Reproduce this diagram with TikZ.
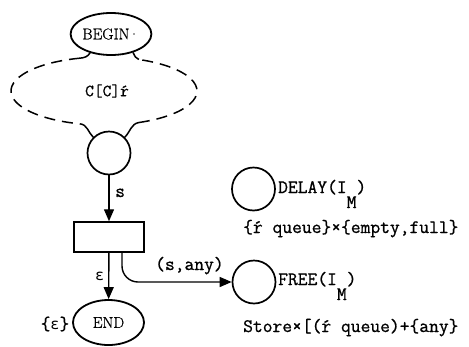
\documentclass[tikz,border=0pt]{standalone}
\usepackage{fontspec}
\newfontfamily\netmono{Latin Modern Mono}[FakeBold=0.9]
\newfontfamily\netroman{Latin Modern Roman}[FakeBold=0.7]
\newfontfamily\netgreek{DejaVu Sans Mono}
\usetikzlibrary{shapes.geometric,arrows.meta,calc}
\begin{document}
\begin{tikzpicture}[x=1pt,y=-1pt,
  place/.style={circle,draw,line width=1.7pt,minimum size=43pt,inner sep=0pt},
  oval/.style={ellipse,draw,line width=1.8pt,inner sep=0pt,
    font=\netroman\fontsize{15.5}{15.5}\selectfont},
  trans/.style={rectangle,draw,line width=1.5pt,minimum width=70pt,
    minimum height=30pt,inner sep=0pt},
  flow/.style={line width=1.4pt,-{Triangle[length=12pt,width=10pt]}},
  ring/.style={line width=1.5pt,dash pattern=on 11pt off 7pt},
  stub/.style={line width=1.5pt},
  tt/.style={font=\netmono\fontsize{19}{19}\selectfont,inner sep=0pt},
  ttsmall/.style={font=\netmono\fontsize{17}{17}\selectfont,inner sep=0pt}
]
\useasboundingbox (0,0) rectangle (469,346);

% places, transition and the two terminal ovals
\node[oval,minimum width=72pt,minimum height=42pt] (begin) at (111,34) {BEGIN\kern-1pt·};
\node[place] (pin) at (109,153) {};
\node[trans] (t) at (109,237) {};
\node[oval,minimum width=71pt,minimum height=45pt] (end) at (108.5,322.5) {END};
\node[place] (delay) at (253.5,189) {};
\node[place] (free) at (254,282) {};

% dashed ring between BEGIN and the input place
\coordinate (dc) at (104,91);
\path (dc) ++(105:93pt and 34pt) coordinate (tl);
\path (dc) ++(255:93pt and 34pt) coordinate (bl);
\path (dc) ++(-68:93pt and 34pt) coordinate (br);
\path (dc) ++(68:93pt and 34pt) coordinate (tr);
\draw[ring] (tl) arc[start angle=105,end angle=255,x radius=93pt,y radius=34pt];
\draw[ring] (br) arc[start angle=-68,end angle=68,x radius=93pt,y radius=34pt];
\draw[stub] (tl) to[out=5,in=-120] (begin.222);
\draw[stub] (begin.-40) to[out=-60,in=170] (tr);
\draw[stub] (bl) to[out=-5,in=135] (pin.135);
\draw[stub] (pin.45) to[out=45,in=190] (br);
\node[ttsmall] (ring) at (107,91) {C[C]ŕ};

% arcs of the net
\draw[flow] (pin) -- (t);
\draw[flow] (t) -- (end);
\draw[flow,rounded corners=16pt] ([xshift=13pt]t.south) |- (free);

% arc inscriptions
\node[tt,anchor=base west] (ls) at (115,197) {s};
\node[tt,anchor=base west] (leps) at (95,280) {{\netgreek\fontsize{15}{15}\selectfont ε}};
\node[tt,anchor=base west] (lany) at (155,270) {(s,any)};
\node[tt] (endtok) at (55,324) {\{{\netgreek\fontsize{15}{15}\selectfont ε}\}};

% place names and colour sets
\node[tt,anchor=base west] (delayname) at (278,193) {DELAY(I\raisebox{-15pt}{M})};
\node[tt,anchor=base west] (delayset) at (243,233) {\{ŕ queue\}×\{empty,full\}};
\node[tt,anchor=base west] (freename) at (278,285) {FREE(I\raisebox{-15pt}{M})};
\node[tt,anchor=base west] (freeset) at (243,332) {Store×[(ŕ queue)+\{any\}};
\end{tikzpicture}
\end{document}
